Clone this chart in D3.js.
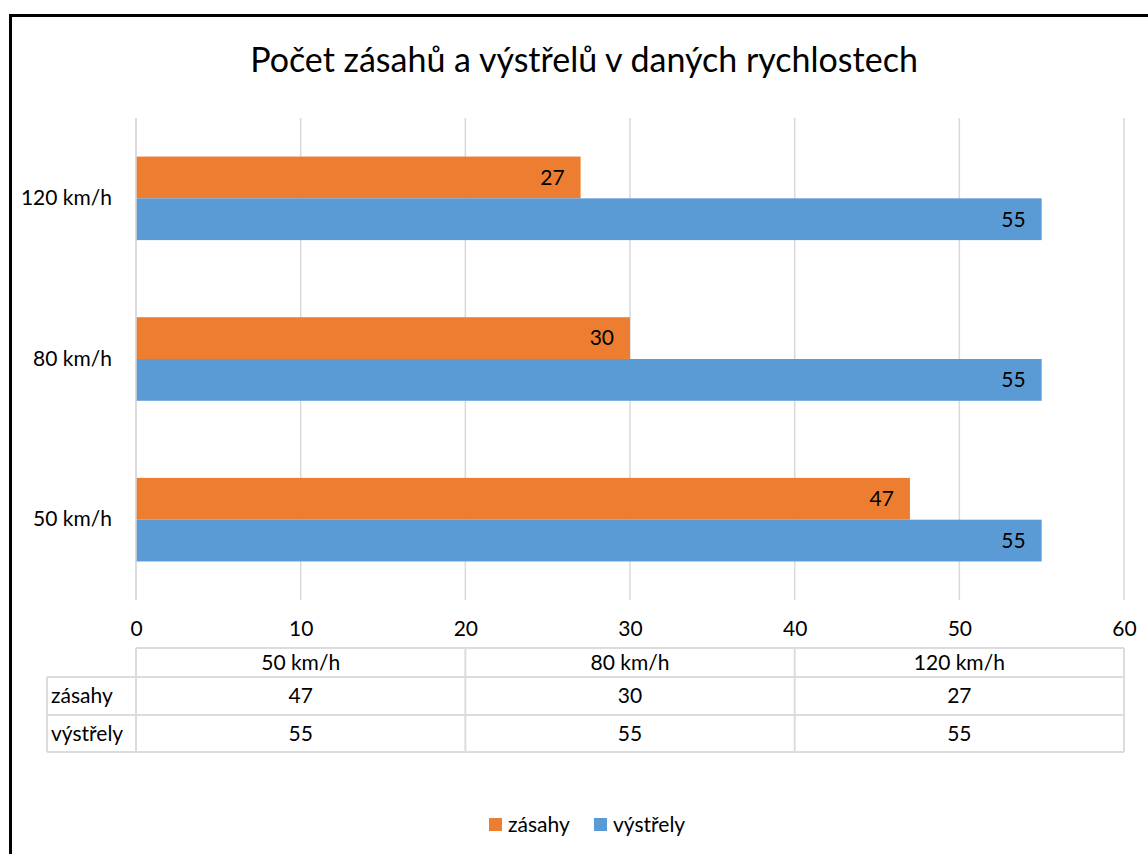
<!DOCTYPE html>
<html>
<head>
<meta charset="utf-8">
<script src="https://cdn.jsdelivr.net/npm/d3@7"></script>
<style>
  body { margin: 0; background: #fff; }
  text { font-family: Lato, "Noto Sans", sans-serif; fill: #000; }
</style>
</head>
<body>
<div id="chart"></div>
<script>
var categories = ["50 km/h", "80 km/h", "120 km/h"];
var seriesNames = ["zásahy", "výstřely"];
var zasahy = [47, 30, 27];
var vystrely = [55, 55, 55];
var xTicks = [0, 10, 20, 30, 40, 50, 60];
var colors = ["#ed7d31", "#5b9bd5"];

var W = 1148, H = 854;
var margin = {top: 118, left: 136, right: 24, bottom: 254};
var width = W - margin.left - margin.right;
var height = H - margin.top - margin.bottom;
var fs = "21px";

var svg = d3.select("#chart")
    .append("svg")
    .attr("width", W)
    .attr("height", H);

// outer chart border (runs off the right and bottom edge)
svg.append("rect")
    .attr("x", 10.5).attr("y", 15.5)
    .attr("width", W + 20).attr("height", H + 20)
    .style("fill", "none")
    .style("stroke", "#000")
    .style("stroke-width", 3);

svg.append("text")
    .attr("x", 584).attr("y", 72)
    .attr("text-anchor", "middle")
    .style("font-size", "34px")
    .text("Počet zásahů a výstřelů v daných rychlostech");

var g = svg.append("g")
    .attr("transform", "translate(" + margin.left + "," + margin.top + ")");

var x = d3.scaleLinear().domain([0, 60]).range([0, width]);

// categories drawn bottom to top
var y = d3.scaleBand().domain(categories.slice().reverse()).range([0, height]).paddingInner(0.48).paddingOuter(0.24);
var ySub = d3.scaleBand().domain(seriesNames).range([0, y.bandwidth()]);

g.append("g")
    .selectAll("line")
    .data(xTicks)
    .join("line")
    .attr("x1", d => x(d)).attr("x2", d => x(d))
    .attr("y1", 0).attr("y2", height)
    .style("stroke", "#d9d9d9")
    .style("stroke-width", 1.5);

var xAxis = g.append("g")
    .attr("transform", "translate(0," + height + ")")
    .call(d3.axisBottom(x).tickValues(xTicks).tickSize(0).tickPadding(21));
xAxis.select(".domain").remove();
xAxis.selectAll("text").style("font-size", fs).style("font-family", "Lato, 'Noto Sans', sans-serif");

var yAxis = g.append("g")
    .call(d3.axisLeft(y).tickSize(0).tickPadding(24));
yAxis.select(".domain").remove();
yAxis.selectAll("text").style("font-size", fs).style("font-family", "Lato, 'Noto Sans', sans-serif");

var series = [zasahy, vystrely];
series.forEach(function(vals, si) {
    var grp = g.append("g");
    grp.selectAll("rect")
        .data(vals)
        .join("rect")
        .attr("x", 0)
        .attr("y", (d, i) => y(categories[i]) + ySub(seriesNames[si]))
        .attr("width", d => x(d))
        .attr("height", ySub.bandwidth())
        .style("fill", colors[si]);
    grp.selectAll("text")
        .data(vals)
        .join("text")
        .attr("x", d => x(d) - 16)
        .attr("y", (d, i) => y(categories[i]) + ySub(seriesNames[si]) + ySub.bandwidth() / 2)
        .attr("dy", "0.35em")
        .attr("text-anchor", "end")
        .style("font-size", fs)
        .text(d => d);
});

// axis line on the left
g.append("line")
    .attr("x1", 0).attr("x2", 0).attr("y1", 0).attr("y2", height)
    .style("stroke", "#d9d9d9").style("stroke-width", 1.5);

// data table
var tTop = 648, rowH = [29, 38, 37], labelLeft = 47;
var tbl = svg.append("g");
var cols = categories.map((c, i) => margin.left + width * i / categories.length);
var colW = width / categories.length;
var tStroke = "#dcdcdc";

var rowY = [tTop, tTop + rowH[0], tTop + rowH[0] + rowH[1], tTop + rowH[0] + rowH[1] + rowH[2]];

// horizontal lines
tbl.append("line").attr("x1", margin.left).attr("x2", margin.left + width).attr("y1", rowY[0]).attr("y2", rowY[0]);
[1, 2, 3].forEach(function(r) {
    tbl.append("line").attr("x1", labelLeft).attr("x2", margin.left + width).attr("y1", rowY[r]).attr("y2", rowY[r]);
});
// vertical lines
tbl.append("line").attr("x1", labelLeft).attr("x2", labelLeft).attr("y1", rowY[1]).attr("y2", rowY[3]);
cols.concat([margin.left + width]).forEach(function(cx) {
    tbl.append("line").attr("x1", cx).attr("x2", cx).attr("y1", rowY[0]).attr("y2", rowY[3]);
});
tbl.selectAll("line").style("stroke", tStroke).style("stroke-width", 2);

tbl.selectAll("text.head")
    .data(categories)
    .join("text")
    .attr("class", "head")
    .attr("x", (d, i) => cols[i] + colW / 2)
    .attr("y", (rowY[0] + rowY[1]) / 2)
    .attr("dy", "0.35em")
    .attr("text-anchor", "middle")
    .style("font-size", fs)
    .text(d => d);

series.forEach(function(vals, si) {
    var cy = (rowY[si + 1] + rowY[si + 2]) / 2;
    tbl.append("text")
        .attr("x", labelLeft + 4)
        .attr("y", cy)
        .attr("dy", "0.35em")
        .style("font-size", fs)
        .text(seriesNames[si]);
    tbl.selectAll("text.v" + si)
        .data(vals)
        .join("text")
        .attr("class", "v" + si)
        .attr("x", (d, i) => cols[i] + colW / 2)
        .attr("y", cy)
        .attr("dy", "0.35em")
        .attr("text-anchor", "middle")
        .style("font-size", fs)
        .text(d => d);
});

// legend
var legend = svg.append("g");
var legX = [489, 594];
seriesNames.forEach(function(name, i) {
    legend.append("rect")
        .attr("x", legX[i]).attr("y", 818)
        .attr("width", 13).attr("height", 13)
        .style("fill", colors[i]);
    legend.append("text")
        .attr("x", legX[i] + 19).attr("y", 825)
        .attr("dy", "0.35em")
        .style("font-size", fs)
        .text(name);
});
</script>
</body>
</html>
